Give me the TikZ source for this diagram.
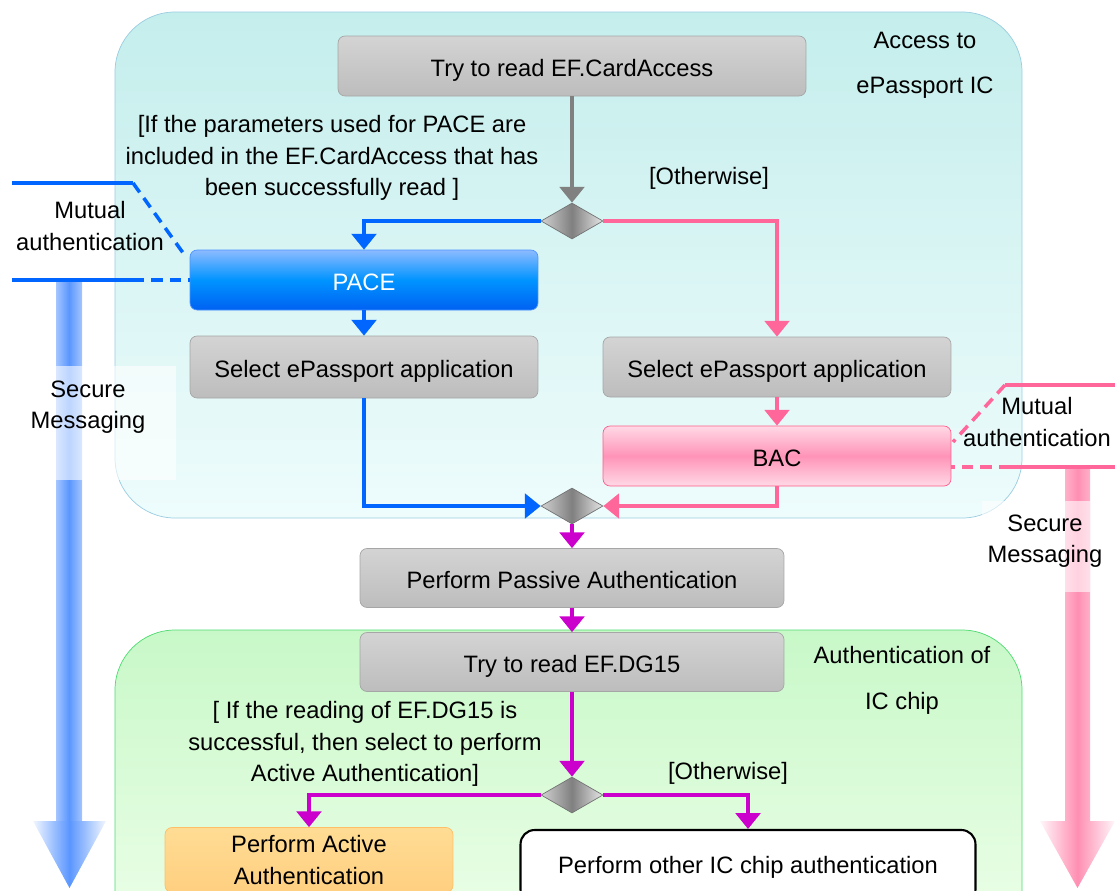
\documentclass[tikz,border=0pt]{standalone}
\usepackage{fontspec}
\setmainfont{Liberation Sans}
\usetikzlibrary{shapes.geometric,arrows.meta}
\definecolor{lineblue}{HTML}{0066FF}
\definecolor{linepink}{HTML}{FF6699}
\definecolor{linemag}{HTML}{CC00CC}
\definecolor{linegray}{HTML}{808080}
\definecolor{arrowblue}{HTML}{5A96FF}
\definecolor{arrowpink}{HTML}{FF8FB3}
\definecolor{accesstop}{HTML}{C4EEEC}
\definecolor{accessbot}{HTML}{EEFCFC}
\definecolor{authtop}{HTML}{C8F8C8}
\definecolor{authbot}{HTML}{EEFFEA}
\definecolor{activetop}{HTML}{FFDC94}
\definecolor{activebot}{HTML}{FFCF80}
\begin{document}
\begin{tikzpicture}[x=0.02cm, y=-0.02cm,
    every node/.style={font=\fontsize{13.5}{18}\selectfont},
    region/.style={rounded corners=1.2cm},
    box/.style={draw=black!35, rounded corners=4pt, top color=black!17, bottom color=black!26, minimum height=1.2cm, align=center, text height=15pt, text depth=3pt},
    decision/.style={diamond, draw=black!55, left color=black!18, right color=black!10, middle color=black!50, minimum width=1.24cm, minimum height=0.72cm, inner sep=0pt},
    flow/.style={line width=2pt, -{Triangle[width=14pt,length=9pt]}},
    mutual/.style={line width=2pt},
    mutualdash/.style={line width=2pt, dash pattern=on 6.5pt off 4pt},
    smbox/.style={fill=white, fill opacity=0.6}]
    \useasboundingbox (0,0) rectangle (1115,890);
    % regions
    \shade[region, top color=accesstop, bottom color=accessbot, draw=cyan!50!teal!45] (115,12) rectangle (1022,518);
    \shade[region, top color=authtop, bottom color=authbot, draw=green!60!teal!70] (115,630) rectangle (1022,950);
    \node at (925,40) {Access to};
    \node at (925,88) {ePassport IC};
    \node at (902,655) {Authentication of};
    \node at (902,703) {IC chip};
    % secure messaging arrows
    \shade[left color=arrowblue!55, right color=arrowblue!55, middle color=arrowblue] (56,280) rectangle (82,821);
    \shade[left color=arrowblue!8, right color=arrowblue!8, middle color=arrowblue] (33,821) -- (106,821) -- (69.5,888) -- cycle;
    \shade[left color=arrowpink!70, right color=arrowpink!70, middle color=arrowpink] (1065,467) rectangle (1090,821);
    \shade[left color=arrowpink!8, right color=arrowpink!8, middle color=arrowpink] (1040,821) -- (1115,821) -- (1077.5,888) -- cycle;
    \fill[smbox] (27,366) rectangle (176,480);
    \fill[smbox] (982,501) rectangle (1090,592);
    \node[align=center] (smL) at (88,407) {Secure\\Messaging};
    \node[align=center] (smR) at (1045,541) {Secure\\Messaging};
    % nodes
    \node[box, minimum width=9.36cm] (cardacc) at (572,66) {Try to read EF.CardAccess};
    \node[decision] (d1) at (572,221) {};
    \node[box, minimum width=6.96cm, draw=lineblue!70, top color=lineblue!45, bottom color=lineblue!95!black, middle color=lineblue!70!cyan, text=white] (pace) at (364,280) {PACE};
    \node[box, minimum width=6.96cm, minimum height=1.24cm] (selL) at (364,367) {Select ePassport application};
    \node[box, minimum width=6.96cm] (selR) at (777,367) {Select ePassport application};
    \node[box, minimum width=6.96cm, draw=linepink!90!red, top color=linepink!25, bottom color=linepink!25, middle color=linepink!70] (bac) at (777,456) {BAC};
    \node[decision] (d2) at (572,506) {};
    \node[box, minimum width=8.48cm, minimum height=1.18cm] (passive) at (572,578) {Perform Passive Authentication};
    \node[box, minimum width=8.48cm, minimum height=1.18cm] (dg15) at (572,662) {Try to read EF.DG15};
    \node[decision] (d3) at (572,795) {};
    \node[box, minimum width=5.76cm, minimum height=1.3cm, text height=, text depth=, draw=activebot!80!orange, top color=activetop, bottom color=activebot] (active) at (309,860) {Perform Active\\Authentication};
    \node[box, minimum width=9.1cm, minimum height=1.48cm, text height=, text depth=, draw=black, line width=1.2pt, top color=white, bottom color=white, rounded corners=8pt] (other) at (748,867) {Perform other IC chip authentication};
    % guards
    \node[align=center] (g1) at (332,158) {[If the parameters used for PACE are\\included in the EF.CardAccess that has\\been successfully read ]};
    \node (g2) at (709,178) {[Otherwise]};
    \node[align=center] (g3) at (365,744) {[ If the reading of EF.DG15 is\\successful, then select to perform\\Active Authentication]};
    \node (g4) at (728,773) {[Otherwise]};
    % flows
    \draw[flow, linegray] (cardacc) -- (d1);
    \draw[flow, lineblue] (d1.west) -| (pace.north);
    \draw[flow, lineblue] (pace) -- (selL);
    \draw[flow, lineblue] (selL.south) |- (d2.west);
    \draw[flow, linepink] (d1.east) -| (selR.north);
    \draw[flow, linepink] (selR) -- (bac);
    \draw[flow, linepink] (bac.south) |- (d2.east);
    \draw[flow, linemag] (d2) -- (passive);
    \draw[flow, linemag] (passive) -- (dg15);
    \draw[flow, linemag] (dg15) -- (d3);
    \draw[flow, linemag] (d3.west) -| (active.north);
    \draw[flow, linemag] (d3.east) -| (other.north);
    % mutual authentication
    \node[align=center] (mutL) at (90,226) {Mutual\\authentication};
    \coordinate (mlA) at (12,183);
    \coordinate (mlB) at (133,183);
    \coordinate (mlC) at (186,257);
    \coordinate (mlD) at (12,280);
    \coordinate (mlE) at (133,280);
    \draw[mutual, lineblue] (mlA) -- (mlB);
    \draw[mutualdash, lineblue] (mlB) -- (mlC);
    \draw[mutual, lineblue] (mlD) -- (mlE);
    \draw[mutualdash, lineblue] (mlE) -- (pace.west);
    \node[align=center] (mutR) at (1037,422) {Mutual\\authentication};
    \coordinate (mrA) at (1115,385);
    \coordinate (mrB) at (1005,385);
    \coordinate (mrC) at (953,442);
    \coordinate (mrD) at (1115,467);
    \coordinate (mrE) at (1010,467);
    \coordinate (mrF) at (951,467);
    \draw[mutual, linepink] (mrA) -- (mrB);
    \draw[mutualdash, linepink] (mrB) -- (mrC);
    \draw[mutual, linepink] (mrD) -- (mrE);
    \draw[mutualdash, linepink] (mrE) -- (mrF);
\end{tikzpicture}
\end{document}
